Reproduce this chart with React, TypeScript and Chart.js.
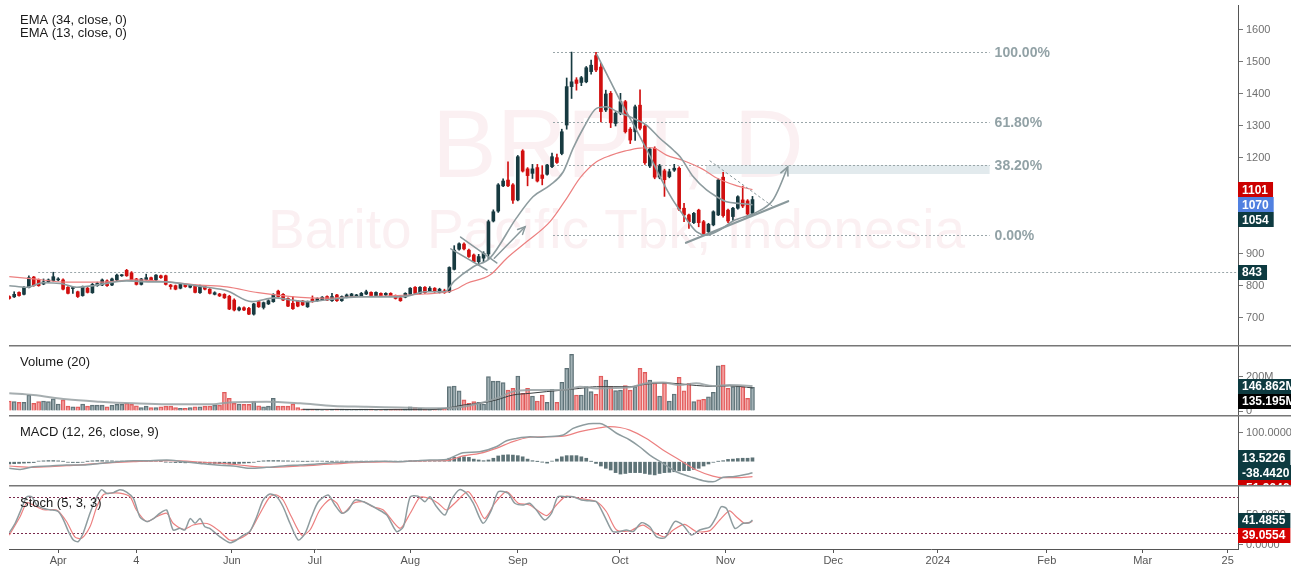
import React, { useEffect, useRef } from 'react';
import { Chart, registerables } from 'chart.js';

Chart.register(...registerables);

const FONT = '"Liberation Sans", Arial, sans-serif';
Chart.defaults.font.family = FONT;

// ---------------- data (bar index = trading day) ----------------
const OPEN = [
  767, 766, 780, 774, 796, 828, 819, 806, 813, 817,
  819, 819, 796, 792, 782, 770, 793, 779, 801, 803,
  816, 803, 819, 832, 849, 841, 822, 805, 820, 826,
  819, 832, 832, 803, 801, 793, 805, 796, 800, 779,
  798, 790, 774, 775, 774, 768, 756, 725, 732, 730,
  712, 751, 733, 744, 751, 784, 774, 761, 746, 753,
  753, 735, 759, 754, 757, 767, 754, 772, 754, 765,
  767, 769, 769, 775, 780, 770, 777, 772, 777, 770,
  763, 765, 774, 796, 777, 796, 785, 793, 780, 785,
  782, 852, 915, 931, 912, 897, 876, 887, 900, 1003,
  1034, 1113, 1131, 1116, 1069, 1222, 1166, 1152, 1170, 1147,
  1149, 1173, 1201, 1214, 1303, 1423, 1444, 1436, 1438, 1470,
  1520, 1484, 1350, 1402, 1308, 1340, 1376, 1290, 1282, 1365,
  1300, 1175, 1230, 1140, 1160, 1142, 1162, 1168, 1043, 1022,
  998, 1037, 1001, 970, 991, 1022, 1140, 1037, 1017, 1043,
  1069, 1066, 1027,
];
const HIGH = [
  769, 782, 782, 798, 832, 830, 822, 822, 822, 843,
  826, 822, 798, 796, 784, 800, 796, 808, 812, 822,
  819, 825, 837, 836, 852, 845, 824, 824, 837, 828,
  836, 834, 834, 805, 803, 807, 807, 805, 803, 803,
  801, 792, 782, 777, 776, 771, 760, 735, 735, 733,
  746, 753, 750, 757, 776, 787, 776, 763, 767, 755,
  755, 753, 769, 763, 767, 769, 777, 774, 769, 775,
  777, 774, 780, 787, 782, 782, 779, 779, 779, 772,
  765, 779, 795, 798, 798, 798, 798, 795, 793, 790,
  860, 926, 935, 935, 915, 900, 899, 907, 1006, 1038,
  1120, 1135, 1188, 1120, 1208, 1226, 1170, 1180, 1180, 1176,
  1180, 1215, 1212, 1290, 1450, 1531, 1451, 1455, 1486, 1506,
  1530, 1496, 1412, 1408, 1345, 1402, 1380, 1295, 1365, 1413,
  1305, 1232, 1235, 1180, 1165, 1165, 1180, 1172, 1058, 1025,
  1030, 1040, 1005, 996, 1035, 1135, 1155, 1040, 1046, 1082,
  1112, 1070, 1080,
];
const LOW = [
  759, 764, 768, 772, 794, 799, 799, 804, 811, 815,
  816, 788, 775, 777, 764, 768, 778, 777, 799, 801,
  799, 801, 817, 830, 830, 817, 803, 803, 818, 817,
  817, 824, 803, 790, 788, 791, 796, 794, 778, 777,
  788, 775, 772, 767, 761, 726, 722, 722, 723, 710,
  709, 733, 728, 742, 749, 765, 754, 735, 727, 735,
  739, 733, 749, 752, 755, 754, 752, 752, 752, 763,
  765, 767, 767, 773, 768, 768, 768, 770, 767, 759,
  752, 763, 772, 775, 775, 777, 783, 780, 778, 777,
  780, 850, 912, 913, 889, 873, 866, 876, 884, 1000,
  1030, 1110, 1110, 1058, 1066, 1156, 1113, 1136, 1125, 1116,
  1146, 1170, 1183, 1210, 1290, 1386, 1412, 1426, 1435, 1462,
  1470, 1313, 1345, 1295, 1300, 1335, 1278, 1245, 1255, 1288,
  1180, 1170, 1135, 1135, 1080, 1138, 1158, 1035, 1001, 980,
  995, 985, 960, 960, 988, 1020, 1015, 998, 1005, 1040,
  1045, 1020, 1024,
];
const CLOSE = [
  761, 774, 770, 796, 826, 801, 801, 813, 819, 829,
  822, 790, 777, 794, 767, 798, 780, 805, 808, 819,
  801, 822, 834, 834, 832, 819, 805, 822, 826, 819,
  834, 826, 805, 798, 790, 805, 798, 803, 780, 801,
  790, 777, 779, 769, 763, 728, 725, 732, 725, 712,
  744, 735, 748, 754, 774, 767, 756, 737, 729, 737,
  741, 751, 751, 761, 765, 756, 767, 754, 767, 772,
  775, 771, 777, 782, 770, 780, 770, 777, 769, 761,
  754, 777, 793, 777, 796, 779, 793, 782, 790, 779,
  858, 912, 932, 916, 892, 876, 892, 902, 1001, 1032,
  1116, 1128, 1113, 1068, 1204, 1159, 1145, 1166, 1128, 1136,
  1178, 1204, 1186, 1282, 1423, 1438, 1433, 1451, 1482, 1490,
  1475, 1345, 1400, 1310, 1340, 1376, 1282, 1256, 1360, 1293,
  1185, 1228, 1140, 1175, 1132, 1157, 1168, 1040, 1022, 1001,
  1027, 998, 964, 993, 1032, 1131, 1020, 1003, 1043, 1079,
  1050, 1025, 1070,
];
// volume in millions
const VOLUME = [
  59, 55, 51, 51, 94, 45, 55, 59, 55, 71,
  41, 65, 29, 25, 25, 41, 29, 35, 35, 35,
  25, 35, 39, 39, 45, 39, 31, 20, 29, 20,
  20, 25, 29, 29, 20, 16, 16, 20, 25, 25,
  29, 29, 35, 35, 110, 74, 45, 41, 39, 39,
  55, 31, 25, 29, 74, 29, 29, 29, 41, 20,
  12, 10, 10, 10, 6, 6, 10, 12, 12, 10,
  10, 10, 12, 12, 12, 6, 6, 10, 10, 12,
  12, 12, 25, 20, 16, 12, 10, 12, 16, 16,
  143, 147, 118, 65, 45, 55, 51, 41, 202, 176,
  176, 167, 123, 133, 206, 104, 133, 88, 59, 94,
  51, 127, 51, 169, 251, 333, 94, 94, 143, 114,
  98, 206, 182, 143, 120, 123, 149, 123, 143, 251,
  227, 182, 163, 88, 163, 59, 100, 198, 118, 163,
  55, 65, 69, 84, 110, 265, 270, 133, 143, 147,
  143, 74, 139,
];
// indicator lines: [bar index, value]
const EMA34 = [
  [0, 829], [4.9, 822], [11.7, 812], [18.5, 812], [25.4, 819], [32.2, 813], [39, 803], [44.5, 797],
  [50.9, 779], [57.7, 767], [64.6, 762], [71.4, 767], [78.2, 769], [85, 775], [89.8, 782], [91.8, 793],
  [93.5, 808], [98.3, 834], [101.7, 886], [105.8, 938], [110.6, 1001], [114, 1074], [116.7, 1137],
  [120.1, 1188], [123, 1208], [126, 1222], [129, 1231], [131.5, 1232], [134.4, 1209], [137.8, 1192],
  [141.7, 1166], [145, 1135], [148.4, 1115], [152, 1101],
];
const EMA13 = [
  [0, 801], [3.6, 796], [6.9, 810], [10.4, 808], [13.8, 796], [17.2, 801], [21.3, 812], [24, 816],
  [28.8, 813], [32.2, 813], [36.3, 805], [40.4, 796], [44.5, 785], [49.6, 751], [54.3, 763], [57.7, 756],
  [61.1, 751], [64.6, 756], [71.4, 766], [78.2, 766], [81.6, 769], [85, 782], [89, 782], [91, 815],
  [94.9, 860], [98.3, 887], [103.7, 1012], [107.1, 1079], [110.6, 1115], [113.3, 1157], [115.3, 1230],
  [117.4, 1293], [120.1, 1355], [122.1, 1360], [124.3, 1345], [127.6, 1324], [130.3, 1303], [133.1, 1261],
  [135.8, 1225], [137.2, 1204], [139.9, 1141], [142.6, 1100], [144.7, 1079], [146.7, 1063], [149.4, 1058],
  [152, 1054],
];
const VOL_MA_A = [
  [0, 104], [4.9, 94], [11.7, 69], [18.5, 55], [25.4, 45], [32.2, 39], [39, 39], [42.4, 41], [45.8, 52],
  [52.6, 55], [59.5, 45], [66.3, 29], [73.1, 25], [79.9, 20], [86, 16], [92.8, 25], [99.6, 74], [103, 114],
  [106.5, 123], [113.3, 123], [116.7, 143], [120.1, 133], [126.9, 139], [130.3, 163], [133.7, 167],
  [137.1, 153], [140.5, 163], [143.9, 147], [147.3, 153], [150.8, 149], [152, 146.862],
];
const VOL_MA_B = [
  [60, 10], [70, 9], [80, 8], [86, 8], [89.4, 16], [92.8, 35], [96.2, 45], [99.6, 65], [103, 94],
  [106.5, 104], [109.9, 114], [113.3, 123], [116.7, 133], [120.1, 143], [123.5, 143], [126.9, 143],
  [130.3, 158], [133.7, 165], [137.1, 160], [140.5, 150], [143.9, 145], [147.3, 148], [150.8, 140],
  [152, 135.195],
];
const MACD_LINE = [
  [0, -23], [2.2, -27], [4.9, -17.5], [8.3, -15], [11.7, -11.5], [15.1, -11.5], [18.5, -6], [22, 0],
  [25.4, 3.6], [28.8, 3.6], [32.2, 6], [35.6, 0], [39, -6], [42.4, -11.5], [45.8, -15], [49.2, -23],
  [52.6, -19.6], [56, -15], [59.5, -11.5], [62.9, -8], [66.3, -3.4], [69.7, -1], [73.1, 0], [76.5, 1.3],
  [79.9, 0], [83.3, 3.6], [86, 6], [89.4, 8], [91.5, 23], [92.8, 31], [96.2, 35], [99.6, 52], [101.7, 73],
  [103.7, 81], [106.5, 87], [108.5, 85], [109.9, 87], [113.3, 93], [115.3, 116], [117.4, 128], [119.4, 133],
  [120.8, 133], [122.1, 124], [124.2, 99], [126.9, 75.5], [128.9, 52], [131, 23], [133.7, -6], [136.4, -35],
  [139.2, -52], [141.9, -66], [143.9, -70], [146, -54.5], [148, -52], [150.8, -44], [152, -38.442],
];
const MACD_SIGNAL = [
  [0, -15], [4.9, -19.6], [11.7, -14], [18.5, -6], [25.4, 0], [32.2, 3.6], [39, -1], [45.8, -9],
  [52.6, -19.6], [59.5, -15], [66.3, -8], [73.1, -2], [79.9, 0], [86, 4], [89.4, 4], [92.8, 20],
  [96.2, 29], [99.6, 46.5], [103, 70], [106.5, 85], [109.9, 87], [113.3, 89], [116.7, 104.5], [120.1, 116],
  [122.8, 122], [124.9, 119], [126.9, 110], [130.3, 81], [133.7, 40.7], [137.1, 6], [140.5, -29],
  [143.9, -50], [146, -55.6], [148.7, -55.6], [152, -51.9646],
];
const MACD_HIST = [
  -8, -7, -6, -5, -4, -3, 2, 3, 4, 4,
  3, 1, -2, -3, -3, -2, 1, 3, 4, 4,
  3, 3, 2, 2, 1, 1, 2, 3, 3, 3,
  2, 1, -1, -2, -3, -3, -4, -3, -3, -4,
  -5, -6, -6, -7, -8, -8, -7, -6, -5, -4,
  -2, 1, 3, 4, 4, 4, 3, 3, 2, 2,
  1, 1, 2, 2, 2, 1, 1, 2, 2, 1,
  1, 1, 2, 2, 1, 1, 0, 1, 1, 2,
  2, 2, 3, 3, 2, 2, 3, 4, 5, 8,
  12, 15, 15, 17, 15, 9, 6, 3.5, 6, 12,
  20, 23, 24, 23, 21, 17, 9, 3.5, 0.5, -1,
  -5, 2, 9, 17, 21, 21, 21, 17, 12, 1,
  -6, -15, -23, -29, -38, -43, -41, -38, -38, -38,
  -41, -44, -46, -41, -38, -37, -35, -32, -31, -31,
  -27, -23, -15, -8, -2, 1, 3.5, 8, 9, 11,
  12, 12, 13.5226,
];
const STOCH_K = [
  [0, 20], [1.2, 36], [2.5, 61], [3.6, 81], [4.6, 81], [5.6, 67], [7, 61], [8.3, 59], [10, 56], [11.1, 41.5],
  [12.1, 22], [13.1, 7.6], [14.1, 4.8], [15.1, 19], [16.5, 53], [17.9, 81], [18.9, 93], [19.9, 87], [21.3, 88],
  [22.6, 93], [24, 89], [25.4, 78], [26.7, 47], [28.1, 39], [29.5, 44], [30.8, 53], [32.2, 58.5], [33.5, 24.6],
  [34.9, 27.4], [35.9, 24.6], [37, 44], [38, 36], [39, 44], [40, 30], [41, 27.4], [43.1, 13], [45.1, 3],
  [46.5, 7.6], [47.9, 16], [49.2, 22], [50.6, 47], [51.9, 75.4], [53.3, 85.6], [54.7, 81], [56, 64], [57.4, 36],
  [59.1, 7.6], [60.5, 19], [61.8, 47], [63.2, 72.6], [65.2, 84], [66.6, 67], [68, 53], [69.3, 58.5], [70.7, 75.4],
  [72.4, 72.6], [73.8, 67], [75.1, 61], [77.2, 50], [79.2, 22], [80.6, 30], [82, 81], [83.6, 82], [85, 72.6],
  [86, 81], [87.4, 64], [89.1, 50], [90.4, 75.4], [92.1, 93], [93.5, 87], [94.9, 70], [96.9, 36], [98.6, 58.5],
  [100, 89.5], [102, 87], [103.4, 70], [105.1, 67], [106.4, 70], [107.8, 58.5], [109.5, 41.5], [110.9, 53],
  [112.2, 81], [113.9, 81], [115.3, 81], [117, 75.4], [118.7, 74], [120.1, 72.6], [121.8, 47], [123.4, 22],
  [124.9, 22], [126.2, 24.6], [127.6, 22], [129.3, 37], [131, 30], [132.4, 13], [134.1, 11.5], [136.1, 39],
  [137.8, 33], [139.5, 16], [141.2, 24.6], [143.3, 30], [144.6, 47], [145.6, 64], [146.7, 61], [148.4, 27.4],
  [150.1, 36], [151.4, 37], [152, 41.4855],
];
const STOCH_D = [
  [0, 16], [2.2, 47], [3.6, 71], [4.9, 67], [7, 59], [9.7, 58.5], [11.7, 39], [13.4, 13], [14.8, 10.5],
  [16.5, 30], [17.9, 64], [19.2, 84], [20.6, 87], [22.6, 87], [24.7, 81], [26, 58.5], [28.1, 39], [30.1, 47],
  [32.2, 53], [33.5, 36], [35.6, 25.7], [37.6, 33], [39.7, 36], [41, 34], [43.1, 22], [45.1, 7.6], [47.2, 10.5],
  [49.2, 22], [51.3, 53], [53.3, 81], [54.7, 84], [56, 75.4], [57.7, 47], [59.8, 16], [61.5, 24.6], [63.5, 58.5],
  [65.6, 76.6], [67, 70], [68.3, 53], [70.4, 70], [72.4, 72.6], [74.4, 64], [76.5, 58.5], [79.9, 27.4], [82, 53],
  [84, 80], [86, 78], [87.7, 70], [89.4, 58.5], [91.1, 70], [93.8, 89.5], [95.5, 70], [97.2, 44], [99.3, 70],
  [101.7, 89.5], [104.1, 70], [106.4, 67], [109.9, 49], [111.9, 67], [113.9, 82], [116.7, 78], [120.1, 72.6],
  [122.1, 56], [124.2, 24.6], [126.9, 23], [129.6, 33], [132, 20], [134.1, 13], [135.8, 24.6], [138.1, 34],
  [140.5, 22], [143.3, 23.5], [145.3, 41.5], [147.3, 57], [148.7, 47], [150.4, 36], [152, 39.0554],
];

// axis ticks
const X_TICKS = [10, 26, 45.5, 62.5, 82, 104, 124.9, 146.5, 168.5, 189.9, 212.2, 231.8, 249.2];
const X_LABELS = ['Apr', '4', 'Jun', 'Jul', 'Aug', 'Sep', 'Oct', 'Nov', 'Dec', '2024', 'Feb', 'Mar', '25'];
const PRICE_TICKS = [700, 800, 900, 1000, 1100, 1200, 1300, 1400, 1500, 1600];
const VOLUME_TICKS = [0, 200];
const MACD_TICKS = [0, 100];
const STOCH_TICKS = [0, 50];
const STOCH_BANDS = [80, 20];

// drawings (bar index, price)
const FIB_LEVELS = [1531, 1313, 1178, 960];
const FIB_LABELS = ['100.00%', '61.80%', '38.20%', '0.00%'];
const FIB_SPAN = [111.2, 200.5];
const SUPPORT_LEVEL = 843;
const SUPPORT_FROM = 5.9;
const ZONE = [142.5, 200.5, 1150, 1178];
const FLAG_UPPER = [[92.3, 953], [99.7, 872]];
const FLAG_LOWER = [[90.3, 916], [97.7, 850]];
const ARROW_UP = [[99.2, 887], [105.5, 985]];
const CUP_CURVE = [
  [120.2, 1522], [122.8, 1444], [124.9, 1381], [127.5, 1309], [130.4, 1225], [133.1, 1141], [135.7, 1069],
  [138.6, 1006], [140.6, 969], [142.7, 959], [145.3, 975], [148.4, 1006], [152.5, 1028], [156.2, 1069],
  [159.2, 1172],
];
const TREND_UP = [[138.4, 935], [159.3, 1065]];
const TREND_DOWN = [[143.3, 1191], [156.2, 1048]];

const WATERMARK_TITLE = 'BRPT, D';
const WATERMARK_SUB = 'Barito Pacific Tbk, Indonesia';

// ---------------- layout / style ----------------
const W = 1291;
const AXIS_W = 53;
const LEFT = 9;
const X_MIN = -0.06;
const X_MAX = 251.3;
const UP = '#173a40';
const DOWN = '#d10f0f';
const TEAL_BOX = '#0d3a40';
const GRAY_LINE = '#8e9c9f';
const RED_LINE = '#ec8080';

const pts = (arr: number[][]) => arr.map(([x, y]) => ({ x, y }));
const isUp = (i: number) => CLOSE[i] >= OPEN[i];

function zeroPad(s: any) {
  s.paddingTop = 0;
  s.paddingBottom = 0;
  s.paddingLeft = 0;
  s.paddingRight = 0;
}

function xScale(display: boolean) {
  return {
    type: 'linear',
    min: X_MIN,
    max: X_MAX,
    offset: false,
    display,
    grid: { display, offset: false, drawOnChartArea: false, drawTicks: true, tickLength: 4, color: '#555' },
    border: { display, color: '#555', width: 1 },
    afterBuildTicks: (s: any) => {
      s.ticks = X_TICKS.map((v) => ({ value: v }));
    },
    afterFit: (s: any) => {
      if (display) s.height = 17;
      zeroPad(s);
    },
    ticks: {
      autoSkip: false,
      maxRotation: 0,
      padding: 1,
      color: '#555',
      font: { size: 11, family: FONT },
      callback: (_v: any, i: number) => X_LABELS[i] ?? '',
    },
  };
}

function yScale(min: number, max: number, ticks: number[], fmt: (v: number) => string) {
  return {
    type: 'linear',
    position: 'right',
    min,
    max,
    beginAtZero: false,
    afterBuildTicks: (s: any) => {
      s.ticks = ticks.map((v) => ({ value: v }));
    },
    afterFit: (s: any) => {
      s.width = AXIS_W;
      zeroPad(s);
    },
    grid: { drawOnChartArea: false, drawTicks: true, tickLength: 5, color: '#777' },
    border: { display: true, color: '#555', width: 1 },
    ticks: { color: '#707070', padding: 3, font: { size: 11, family: FONT }, callback: (v: any) => fmt(Number(v)) },
  };
}

function baseOptions(padTop: number, scales: any) {
  return {
    responsive: false,
    animation: false,
    devicePixelRatio: 1,
    events: [],
    layout: { padding: { left: LEFT, top: padTop, right: 0, bottom: 0 } },
    plugins: { legend: { display: false }, tooltip: { enabled: false } },
    scales,
  };
}

function lineDs(data: number[][], color: string, width: number, order: number, tension = 0) {
  return {
    type: 'line',
    data: pts(data),
    borderColor: color,
    borderWidth: width,
    pointRadius: 0,
    fill: false,
    order,
    tension,
    cubicInterpolationMode: tension ? 'default' : 'monotone',
  };
}

function drawAxisLabels(chart: any, items: { value: number; text: string; bg: string }[]) {
  const { ctx, chartArea: a, scales } = chart;
  const y = scales.y;
  const H = 15;
  const arr = items
    .map((it) => ({ ...it, py: y.getPixelForValue(it.value), cy: 0 }))
    .sort((p, q) => p.py - q.py);
  let prevBottom = -Infinity;
  for (const it of arr) {
    it.cy = Math.max(it.py, prevBottom + H / 2);
    prevBottom = it.cy + H / 2;
  }
  ctx.save();
  ctx.font = `bold 12px ${FONT}`;
  ctx.textBaseline = 'middle';
  ctx.textAlign = 'left';
  for (const it of arr) {
    const w = ctx.measureText(it.text).width + 9;
    ctx.fillStyle = it.bg;
    ctx.fillRect(a.right, Math.round(it.cy - H / 2), w, H);
    ctx.fillStyle = '#fff';
    ctx.fillText(it.text, a.right + 4, Math.round(it.cy) + 0.5);
  }
  ctx.restore();
}

function drawTitle(ctx: any, text: string, y: number) {
  ctx.save();
  ctx.font = `13px ${FONT}`;
  ctx.fillStyle = '#1a1a1a';
  ctx.textBaseline = 'alphabetic';
  ctx.textAlign = 'left';
  ctx.fillText(text, 20, y);
  ctx.restore();
}

function drawSeparator(ctx: any) {
  ctx.save();
  ctx.fillStyle = '#777';
  ctx.fillRect(LEFT, 0, W - LEFT, 1.5);
  ctx.restore();
}

function arrowHead(ctx: any, x1: number, y1: number, x2: number, y2: number, len = 9) {
  const ang = Math.atan2(y2 - y1, x2 - x1);
  ctx.beginPath();
  ctx.moveTo(x2 - len * Math.cos(ang - 0.45), y2 - len * Math.sin(ang - 0.45));
  ctx.lineTo(x2, y2);
  ctx.lineTo(x2 - len * Math.cos(ang + 0.45), y2 - len * Math.sin(ang + 0.45));
  ctx.stroke();
}

function toPx(chart: any, p: number[]) {
  return { x: chart.scales.x.getPixelForValue(p[0]), y: chart.scales.y.getPixelForValue(p[1]) };
}

function segment(ctx: any, chart: any, seg: number[][]) {
  const a = toPx(chart, seg[0]);
  const b = toPx(chart, seg[1]);
  ctx.beginPath();
  ctx.moveTo(a.x, a.y);
  ctx.lineTo(b.x, b.y);
  ctx.stroke();
  return [a, b];
}

const mainPlugin = {
  id: 'mainDecor',
  beforeDatasetsDraw(chart: any) {
    const { ctx, chartArea: a, scales } = chart;
    const { x, y } = scales;
    ctx.save();
    ctx.beginPath();
    ctx.rect(a.left, a.top, a.right - a.left, a.bottom - a.top);
    ctx.clip();
    // watermark
    ctx.fillStyle = '#fbf0f2';
    ctx.textBaseline = 'alphabetic';
    ctx.textAlign = 'left';
    ctx.font = `97px ${FONT}`;
    ctx.fillText(WATERMARK_TITLE, 432, 177);
    ctx.font = `55px ${FONT}`;
    ctx.fillText(WATERMARK_SUB, 268, 248);
    // breakout zone
    const zx1 = x.getPixelForValue(ZONE[0]);
    const zx2 = x.getPixelForValue(ZONE[1]);
    const zy1 = y.getPixelForValue(ZONE[3]);
    const zy2 = y.getPixelForValue(ZONE[2]);
    ctx.fillStyle = '#e2eaed';
    ctx.fillRect(zx1, zy1, zx2 - zx1, zy2 - zy1);
    // dotted levels
    ctx.setLineDash([2, 2]);
    ctx.lineWidth = 1;
    ctx.strokeStyle = '#9aa6a9';
    const f1 = x.getPixelForValue(FIB_SPAN[0]);
    const f2 = x.getPixelForValue(FIB_SPAN[1]);
    for (const lv of FIB_LEVELS) {
      const py = Math.round(y.getPixelForValue(lv)) + 0.5;
      ctx.beginPath();
      ctx.moveTo(f1, py);
      ctx.lineTo(f2, py);
      ctx.stroke();
    }
    const sy = Math.round(y.getPixelForValue(SUPPORT_LEVEL)) + 0.5;
    ctx.beginPath();
    ctx.moveTo(x.getPixelForValue(SUPPORT_FROM), sy);
    ctx.lineTo(a.right, sy);
    ctx.stroke();
    ctx.restore();
  },
  afterDatasetsDraw(chart: any) {
    const { ctx, chartArea: a, scales } = chart;
    const { x, y } = scales;
    ctx.save();
    ctx.beginPath();
    ctx.rect(a.left, a.top, a.right - a.left, a.bottom - a.top);
    ctx.clip();
    ctx.strokeStyle = '#8a999c';
    ctx.lineCap = 'round';
    // flag + arrow
    ctx.lineWidth = 1.5;
    segment(ctx, chart, FLAG_UPPER);
    segment(ctx, chart, FLAG_LOWER);
    const [a1, b1] = segment(ctx, chart, ARROW_UP);
    arrowHead(ctx, a1.x, a1.y, b1.x, b1.y, 8);
    // trend line
    ctx.lineWidth = 2.2;
    segment(ctx, chart, TREND_UP);
    // dotted falling line
    ctx.lineWidth = 1;
    ctx.setLineDash([2, 3]);
    segment(ctx, chart, TREND_DOWN);
    ctx.setLineDash([]);
    // cup curve with arrow
    ctx.lineWidth = 1.6;
    const p = CUP_CURVE.map((q) => toPx(chart, q));
    ctx.beginPath();
    ctx.moveTo(p[0].x, p[0].y);
    for (let i = 0; i < p.length - 1; i++) {
      const p0 = p[i - 1] || p[i];
      const p1 = p[i];
      const p2 = p[i + 1];
      const p3 = p[i + 2] || p2;
      ctx.bezierCurveTo(
        p1.x + (p2.x - p0.x) / 6, p1.y + (p2.y - p0.y) / 6,
        p2.x - (p3.x - p1.x) / 6, p2.y - (p3.y - p1.y) / 6,
        p2.x, p2.y,
      );
    }
    ctx.stroke();
    const n = p.length;
    arrowHead(ctx, p[n - 2].x, p[n - 2].y, p[n - 1].x, p[n - 1].y, 9);
    // fib labels
    ctx.font = `bold 14px ${FONT}`;
    ctx.fillStyle = '#92a2a6';
    ctx.textBaseline = 'middle';
    ctx.textAlign = 'left';
    FIB_LABELS.forEach((t, i) => {
      ctx.fillText(t, x.getPixelForValue(FIB_SPAN[1]) + 5, y.getPixelForValue(FIB_LEVELS[i]) + 1);
    });
    ctx.restore();
    drawTitle(ctx, 'EMA (34, close, 0)', 24);
    drawTitle(ctx, 'EMA (13, close, 0)', 37);
  },
  afterDraw(chart: any) {
    drawAxisLabels(chart, [
      { value: EMA34[EMA34.length - 1][1], text: String(EMA34[EMA34.length - 1][1]), bg: '#cc0000' },
      { value: CLOSE[CLOSE.length - 1], text: String(CLOSE[CLOSE.length - 1]), bg: '#5080e0' },
      { value: EMA13[EMA13.length - 1][1], text: String(EMA13[EMA13.length - 1][1]), bg: TEAL_BOX },
      { value: SUPPORT_LEVEL, text: String(SUPPORT_LEVEL), bg: TEAL_BOX },
    ]);
  },
};

const volumePlugin = {
  id: 'volDecor',
  afterDraw(chart: any) {
    const { ctx } = chart;
    drawSeparator(ctx);
    drawTitle(ctx, 'Volume (20)', 21);
    const a = VOL_MA_A[VOL_MA_A.length - 1][1];
    const b = VOL_MA_B[VOL_MA_B.length - 1][1];
    drawAxisLabels(chart, [
      { value: a, text: a.toFixed(3) + 'M', bg: TEAL_BOX },
      { value: b, text: b.toFixed(3) + 'M', bg: '#000' },
    ]);
  },
};

const macdPlugin = {
  id: 'macdDecor',
  afterDraw(chart: any) {
    const { ctx } = chart;
    drawSeparator(ctx);
    drawTitle(ctx, 'MACD (12, 26, close, 9)', 21);
    const h = MACD_HIST[MACD_HIST.length - 1];
    const m = MACD_LINE[MACD_LINE.length - 1][1];
    const s = MACD_SIGNAL[MACD_SIGNAL.length - 1][1];
    drawAxisLabels(chart, [
      { value: h, text: h.toFixed(4), bg: TEAL_BOX },
      { value: m, text: m.toFixed(4), bg: TEAL_BOX },
      { value: s, text: s.toFixed(4), bg: '#cc0000' },
    ]);
  },
};

const stochPlugin = {
  id: 'stochDecor',
  beforeDatasetsDraw(chart: any) {
    const { ctx, chartArea: a, scales } = chart;
    ctx.save();
    ctx.setLineDash([2, 2]);
    ctx.strokeStyle = '#7a2a4c';
    ctx.lineWidth = 1;
    for (const b of STOCH_BANDS) {
      const py = Math.round(scales.y.getPixelForValue(b)) + 0.5;
      ctx.beginPath();
      ctx.moveTo(a.left, py);
      ctx.lineTo(a.right, py);
      ctx.stroke();
    }
    ctx.restore();
  },
  afterDraw(chart: any) {
    const { ctx } = chart;
    drawSeparator(ctx);
    drawTitle(ctx, 'Stoch (5, 3, 3)', 22);
    const k = STOCH_K[STOCH_K.length - 1][1];
    const d = STOCH_D[STOCH_D.length - 1][1];
    drawAxisLabels(chart, [
      { value: k, text: k.toFixed(4), bg: TEAL_BOX },
      { value: d, text: d.toFixed(4), bg: '#d60000' },
    ]);
  },
};

function mainConfig(): any {
  const colors = OPEN.map((_, i) => (isUp(i) ? UP : DOWN));
  return {
    type: 'bar',
    data: {
      datasets: [
        lineDs(EMA13, GRAY_LINE, 1.6, 0),
        lineDs(EMA34, RED_LINE, 1.2, 0),
        {
          type: 'bar',
          data: OPEN.map((o, i) => ({ x: i, y: [o, CLOSE[i]] })),
          backgroundColor: colors,
          borderWidth: 0,
          barThickness: 3,
          minBarLength: 1,
          grouped: false,
          order: 1,
        },
        {
          type: 'bar',
          data: OPEN.map((_, i) => ({ x: i, y: [LOW[i], HIGH[i]] })),
          backgroundColor: colors,
          borderWidth: 0,
          barThickness: 1,
          grouped: false,
          order: 2,
        },
      ],
    },
    options: baseOptions(5, {
      x: xScale(false),
      y: yScale(615.6, 1678.1, PRICE_TICKS, (v) => String(v)),
    }),
    plugins: [mainPlugin],
  };
}

function volumeConfig(): any {
  return {
    type: 'bar',
    data: {
      datasets: [
        lineDs(VOL_MA_A, 'rgba(150,160,162,0.85)', 2, 0),
        lineDs(VOL_MA_B, '#3a3f40', 1, 0),
        {
          type: 'bar',
          data: VOLUME.map((v, i) => ({ x: i, y: v })),
          backgroundColor: VOLUME.map((_, i) => (isUp(i) ? 'rgba(132,152,157,0.75)' : 'rgba(240,130,130,0.7)')),
          borderColor: VOLUME.map((_, i) => (isUp(i) ? '#5d7075' : '#e05a5a')),
          borderWidth: 1,
          barThickness: 4,
          grouped: false,
          order: 1,
        },
      ],
    },
    options: baseOptions(1, {
      x: xScale(false),
      y: yScale(-23.5, 382.2, VOLUME_TICKS, (v) => (v === 0 ? '0' : v + 'M')),
    }),
    plugins: [volumePlugin],
  };
}

function macdConfig(): any {
  return {
    type: 'bar',
    data: {
      datasets: [
        lineDs(MACD_LINE, GRAY_LINE, 1.5, 0),
        lineDs(MACD_SIGNAL, RED_LINE, 1.2, 0),
        {
          type: 'bar',
          data: MACD_HIST.map((v, i) => ({ x: i, y: v })),
          backgroundColor: '#5e7377',
          borderWidth: 0,
          barThickness: 3,
          grouped: false,
          order: 1,
        },
      ],
    },
    options: baseOptions(1, {
      x: xScale(false),
      y: yScale(-81.1, 159, MACD_TICKS, (v) => v.toFixed(4)),
    }),
    plugins: [macdPlugin],
  };
}

function stochConfig(): any {
  return {
    type: 'line',
    data: {
      datasets: [
        lineDs(STOCH_D, RED_LINE, 1.2, 1, 0.25),
        lineDs(STOCH_K, GRAY_LINE, 1.5, 0, 0.25),
      ],
    },
    options: baseOptions(1, {
      x: xScale(true),
      y: yScale(-7.6, 99.2, STOCH_TICKS, (v) => v.toFixed(4)),
    }),
    plugins: [stochPlugin],
  };
}

export default function App() {
  const mainRef = useRef<HTMLCanvasElement>(null);
  const volRef = useRef<HTMLCanvasElement>(null);
  const macdRef = useRef<HTMLCanvasElement>(null);
  const stochRef = useRef<HTMLCanvasElement>(null);

  useEffect(() => {
    const charts = [
      new Chart(mainRef.current as HTMLCanvasElement, mainConfig()),
      new Chart(volRef.current as HTMLCanvasElement, volumeConfig()),
      new Chart(macdRef.current as HTMLCanvasElement, macdConfig()),
      new Chart(stochRef.current as HTMLCanvasElement, stochConfig()),
    ];
    return () => charts.forEach((c) => c.destroy());
  }, []);

  const cs = (top: number, h: number): React.CSSProperties => ({
    position: 'absolute',
    left: 0,
    top,
    width: W,
    height: h,
    display: 'block',
  });

  return (
    <div style={{ position: 'fixed', left: 0, top: 0, width: W, height: 566, background: '#fff', overflow: 'hidden' }}>
      <canvas ref={mainRef} width={W} height={345} style={cs(0, 345)} />
      <canvas ref={volRef} width={W} height={70} style={cs(345, 70)} />
      <canvas ref={macdRef} width={W} height={70} style={cs(415, 70)} />
      <canvas ref={stochRef} width={W} height={81} style={cs(485, 81)} />
    </div>
  );
}
